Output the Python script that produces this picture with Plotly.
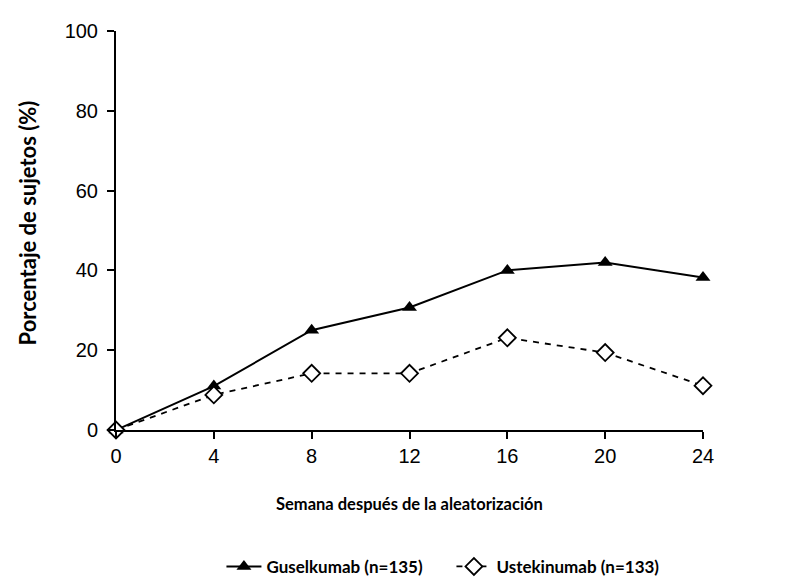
import plotly.graph_objects as go

weeks = [0, 4, 8, 12, 16, 20, 24]
guselkumab = [0, 11, 25, 30.7, 40, 42, 38.2]
ustekinumab = [0, 8.8, 14.2, 14.2, 23.1, 19.4, 11.1]
x_ticks = [0, 4, 8, 12, 16, 20, 24]
y_ticks = [0, 20, 40, 60, 80, 100]
name_g = "Guselkumab (n=135)"
name_u = "Ustekinumab (n=133)"

fig = go.Figure()
fig.add_trace(go.Scatter(
    x=weeks, y=guselkumab, name=name_g, mode="lines+markers",
    line=dict(color="black", width=2),
    marker=dict(symbol="triangle-up", size=13, color="black"),
    cliponaxis=False,
))
fig.add_trace(go.Scatter(
    x=weeks, y=ustekinumab, name=name_u, mode="lines+markers",
    line=dict(color="black", width=1.8, dash="6px,6px"),
    marker=dict(symbol="diamond", size=13, color="white",
                line=dict(color="black", width=1.8)),
    cliponaxis=False,
))

axis_font = dict(family="Liberation Sans, Arial, sans-serif", size=20, color="black")
title_font = "Lato, Open Sans, sans-serif"
# page body has an 8px margin: the figure is sized to fit the window
fig.update_layout(
    width=799, height=575,
    margin=dict(l=108, r=104, t=12, b=153),
    plot_bgcolor="white", paper_bgcolor="white",
    showlegend=True,
    legend=dict(orientation="h", xref="container", yref="container",
                x=0.555, y=0.028, xanchor="center", yanchor="middle",
                font=dict(family=title_font, size=17, color="black", weight="bold"),
                itemwidth=35, entrywidth=180),
    xaxis=dict(range=[0, 24], tickvals=x_ticks, ticktext=[str(v) for v in x_ticks],
               showline=True, linecolor="black", linewidth=2, ticks="outside",
               ticklen=7, tickwidth=1.5, tickcolor="black", showgrid=False,
               zeroline=False, tickfont=axis_font),
    yaxis=dict(range=[0, 100], tickvals=y_ticks, ticktext=[str(v) for v in y_ticks],
               showline=True, linecolor="black", linewidth=2, ticks="outside",
               ticklen=7, tickwidth=1.5, tickcolor="black", showgrid=False,
               zeroline=False, tickfont=axis_font, ticklabelstandoff=5),
)
fig.add_annotation(text="Semana después de la aleatorización", xref="paper", yref="paper",
                   x=0.5, y=-0.185, showarrow=False, yanchor="middle",
                   font=dict(family=title_font, size=16.5, color="black", weight="bold"))
fig.add_annotation(text="Porcentaje de sujetos (%)", xref="paper", yref="paper",
                   x=-0.15, y=0.52, showarrow=False, textangle=-90, xanchor="center",
                   font=dict(family=title_font, size=22, color="black", weight="bold"))

fig.write_html("out.html")
